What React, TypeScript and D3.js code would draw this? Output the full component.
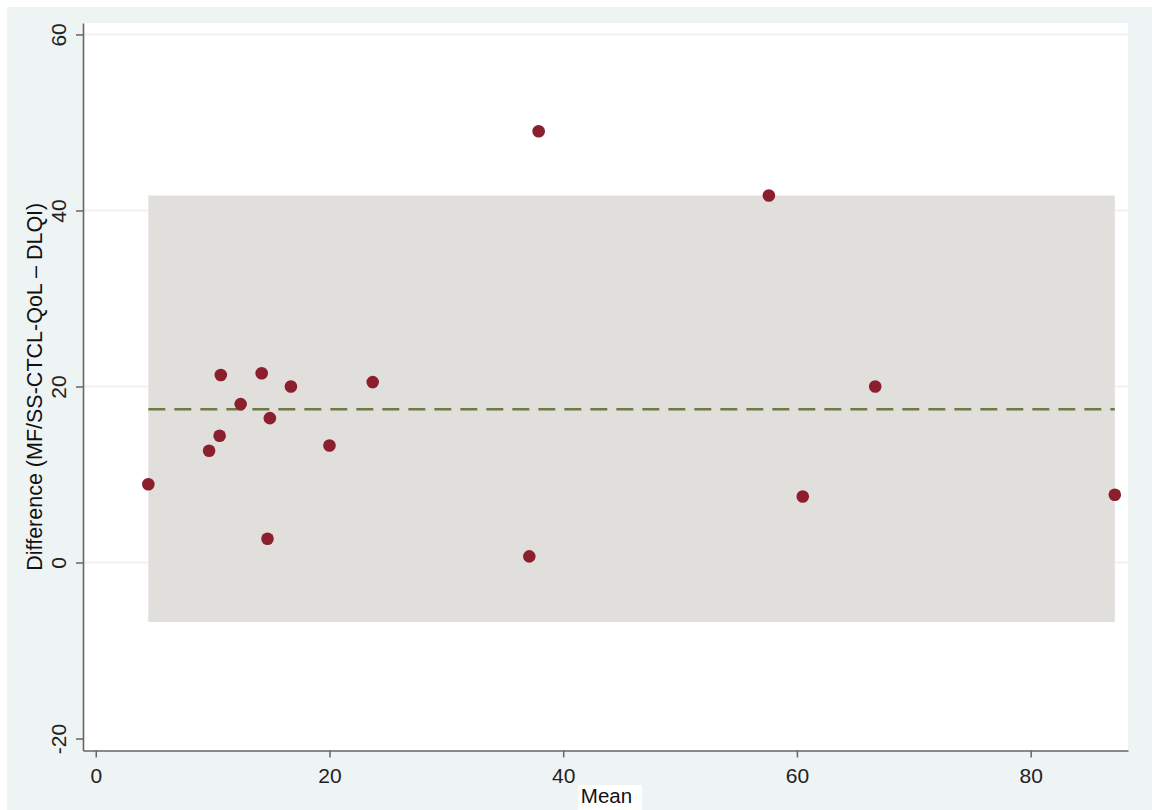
import React, { useEffect, useRef } from "react";
import * as d3 from "d3";

// Bland-Altman data
const meanVals = [4.5, 9.7, 10.6, 10.7, 12.4, 14.2, 14.7, 14.9, 16.7, 20.0, 23.7, 37.1, 37.9, 57.6, 60.5, 66.7, 87.2];
const diffVals = [8.9, 12.7, 14.4, 21.3, 18.0, 21.5, 2.7, 16.4, 20.0, 13.3, 20.5, 0.7, 49.0, 41.7, 7.5, 20.0, 7.7];
const meanDiff = [17.4];
const limits = [-6.75, 41.7]; // lower / upper limits of agreement
const xTicks = [0, 20, 40, 60, 80];
const yTicks = [-20, 0, 20, 40, 60];

const W = 1152, H = 810;

export default function App() {
  const ref = useRef<SVGSVGElement>(null);

  useEffect(() => {
    const svg = d3.select(ref.current);
    svg.selectAll("*").remove();

    const left = 83, right = 1128, top = 23, bottom = 750.5;
    const font = "'Liberation Sans', Arial, Helvetica, sans-serif";

    var x = d3.scaleLinear().domain([-1.09, 88.33]).range([left, right]);
    var y = d3.scaleLinear().domain([-21.36, 61.3]).range([bottom, top]);

    // outer graph region
    svg.append("rect").attr("x", 7).attr("y", 7)
      .attr("width", W - 7).attr("height", H - 7)
      .attr("fill", "#eef3f4");

    // plot region
    svg.append("rect").attr("x", left).attr("y", top)
      .attr("width", right - left).attr("height", bottom - top)
      .attr("fill", "#ffffff");

    // grid
    svg.append("g").selectAll("line").data(yTicks.filter(d => d > -20)).join("line")
      .attr("x1", left).attr("x2", right)
      .attr("y1", d => y(d)).attr("y2", d => y(d))
      .attr("stroke", "#f5f2ee").attr("stroke-width", 2);

    // limits of agreement band, spans the range of the means
    const [xmin, xmax] = d3.extent(meanVals) as [number, number];
    svg.append("rect")
      .attr("x", x(xmin)).attr("y", y(limits[1]))
      .attr("width", x(xmax) - x(xmin))
      .attr("height", y(limits[0]) - y(limits[1]))
      .attr("fill", "#e1dfdc");

    // mean difference
    svg.append("line")
      .attr("x1", x(xmin)).attr("x2", x(xmax))
      .attr("y1", y(meanDiff[0])).attr("y2", y(meanDiff[0]))
      .attr("stroke", "#6e7a45").attr("stroke-width", 2.5)
      .attr("stroke-dasharray", "17,9");

    // points
    svg.append("g").selectAll("circle").data(meanVals).join("circle")
      .attr("cx", d => x(d))
      .attr("cy", (d, i) => y(diffVals[i]))
      .attr("r", 6.3)
      .attr("fill", "#8b1f2d");

    // axes (plain hyphen for negatives, like the original)
    const fmt = (d: any) => String(d);
    const xAxis = d3.axisBottom(x).tickValues(xTicks).tickFormat(fmt).tickSize(7).tickSizeOuter(0).tickPadding(11);
    const gx = svg.append("g").attr("transform", "translate(0," + bottom + ")").call(xAxis);
    gx.attr("font-size", null).attr("font-family", null);
    gx.select(".domain").attr("stroke", "#666").attr("stroke-width", 1.6);
    gx.selectAll(".tick line").attr("stroke", "#666").attr("stroke-width", 1.5);
    gx.selectAll(".tick text").style("font-family", font).style("font-size", "21px").attr("fill", "#222");

    const yAxis = d3.axisLeft(y).tickValues(yTicks).tickFormat(fmt).tickSize(7).tickSizeOuter(0);
    const gy = svg.append("g").attr("transform", "translate(" + left + ",0)").call(yAxis);
    gy.attr("font-size", null).attr("font-family", null);
    gy.select(".domain").attr("stroke", "#666").attr("stroke-width", 1.6);
    gy.selectAll(".tick line").attr("stroke", "#666").attr("stroke-width", 1.5);
    gy.selectAll(".tick text")
      .style("font-family", font).style("font-size", "21px").attr("fill", "#222")
      .attr("x", null).attr("dy", null)
      .attr("text-anchor", "middle")
      .attr("transform", "translate(-17,0) rotate(-90)");

    // axis titles
    svg.append("text")
      .attr("transform", "translate(42," + (top + bottom) / 2 + ") rotate(-90)")
      .attr("text-anchor", "middle")
      .style("font-family", font).style("font-size", "21.5px").attr("fill", "#111")
      .text("Difference (MF/SS-CTCL-QoL \u2013 DLQI)");

    svg.append("rect").attr("x", 578).attr("y", 785).attr("width", 64).attr("height", 25).attr("fill", "#ffffff");
    svg.append("text")
      .attr("x", (left + right) / 2 + 1).attr("y", 803)
      .attr("text-anchor", "middle")
      .style("font-family", font).style("font-size", "20.5px").attr("fill", "#111")
      .text("Mean");
  }, []);

  return (
    <svg ref={ref} width={W} height={H}
      style={{ position: "absolute", left: 0, top: 0, background: "#fff" }} />
  );
}
